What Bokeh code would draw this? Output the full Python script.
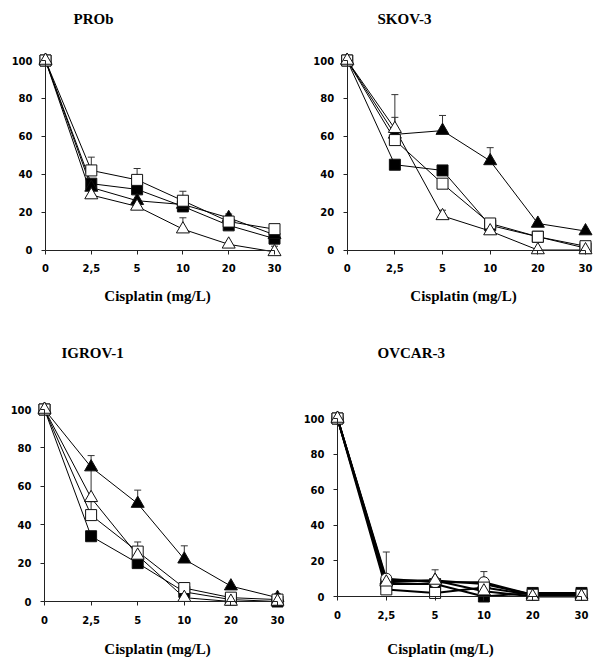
from bokeh.plotting import figure
from bokeh.layouts import column, row
from bokeh.models import Range1d, FixedTicker, Whisker, TeeHead, ColumnDataSource, Label
from bokeh.embed import file_html
from bokeh.resources import INLINE

# ---------------- data ----------------
DOSE_LABELS = ["0", "2,5", "5", "10", "20", "30"]
Y_TICKS = [0, 20, 40, 60, 80, 100]
X_LABEL = "Cisplatin (mg/L)"

# PROb
PROB_FSQ = [100, 35, 32, 23, 13, 6]
PROB_OSQ = [100, 42, 37, 26, 15, 11]
PROB_FTRI = [100, 33, 26, 24, 17, 8]
PROB_OTRI = [100, 29, 23, 11, 3, -1]
PROB_FSQ_ERR = [0, 0, 0, 0, 0, 0]
PROB_OSQ_ERR = [0, 7, 6, 5, 2, 0]
PROB_FTRI_ERR = [0, 0, 0, 0, 2, 0]
PROB_OTRI_ERR = [0, 0, 0, 6, 0, 3]

# SKOV-3
SKOV_FSQ = [100, 45, 42, 13, 7, 1]
SKOV_OSQ = [100, 58, 35, 14, 7, 2]
SKOV_FTRI = [100, 61, 63, 47, 14, 10]
SKOV_OTRI = [100, 64, 18, 10, 0, 0]
SKOV_FSQ_ERR = [0, 0, 0, 0, 0, 0]
SKOV_OSQ_ERR = [0, 12, 0, 0, 0, 0]
SKOV_FTRI_ERR = [0, 0, 8, 7, 0, 0]
SKOV_OTRI_ERR = [0, 18, 3, 0, 0, 0]

# IGROV-1
IGROV_FSQ = [100, 34, 20, 5, 1, 0]
IGROV_OSQ = [100, 45, 26, 7, 2, 1]
IGROV_FTRI = [100, 70, 51, 22, 8, 2]
IGROV_OTRI = [100, 54, 24, 2, 0, 0]
IGROV_FSQ_ERR = [0, 0, 0, 0, 0, 0]
IGROV_OSQ_ERR = [0, 7, 5, 0, 0, 0]
IGROV_FTRI_ERR = [0, 6, 7, 7, 0, 2]
IGROV_OTRI_ERR = [0, 15, 0, 0, 0, 0]

# OVCAR-3
OVCAR_FSQ = [100, 7, 7, 0, 2, 2]
OVCAR_OSQ = [100, 4, 2, 5, 1, 1]
OVCAR_FTRI = [100, 9, 9, 7, 1, 1]
OVCAR_OTRI = [100, 8, 9, 3, 0, 0]
OVCAR_OCIRC = [100, 10, 8, 8, 1, 1]
OVCAR_FSQ_ERR = [0, 0, 0, 0, 0, 0]
OVCAR_OSQ_ERR = [0, 0, 0, 0, 0, 0]
OVCAR_FTRI_ERR = [0, 0, 6, 0, 0, 0]
OVCAR_OTRI_ERR = [0, 0, 0, 0, 0, 0]
OVCAR_OCIRC_ERR = [0, 15, 0, 6, 0, 0]

# ---------------- styles ----------------
STYLE = {
    "fsq": dict(marker="square", fill_color="black", size=11),
    "osq": dict(marker="square", fill_color="white", size=11),
    "ftri": dict(marker="triangle", fill_color="black", size=13),
    "otri": dict(marker="triangle", fill_color="white", size=13),
    "ocirc": dict(marker="circle", fill_color="white", size=11),
}
TICK_FONT = "DejaVu Sans"
SERIF = "Liberation Serif"


def make_panel(title, series, ox, oy, w, h, x0px, x5px, y0px, y100px,
               title_left, title_y, xlabel_cx, xlabel_y, lw):
    xs = list(range(len(DOSE_LABELS)))
    n = xs[-1]
    pxx = (x5px - x0px) / n
    pxy = (y0px - y100px) / 100.0
    # frame covers the whole figure; map the data onto the wanted pixels
    x_start = -(x0px - ox) / pxx
    x_end = x_start + w / pxx
    y_end = 100 + (y100px - oy) / pxy
    y_start = y_end - h / pxy

    def dx(px):
        return x_start + (px - ox) / pxx

    def dy(py):
        return y_end - (py - oy) / pxy

    p = figure(width=w, height=h, title=None,
               x_range=Range1d(x_start, x_end),
               y_range=Range1d(y_start, y_end),
               output_backend="svg", toolbar_location=None,
               min_border_left=0, min_border_right=0,
               min_border_top=0, min_border_bottom=0)
    p.outline_line_color = None
    p.xgrid.visible = False
    p.ygrid.visible = False
    p.background_fill_color = "white"
    p.border_fill_color = "white"

    # axes drawn at the data origin
    xa = p.xaxis[0]
    xa.fixed_location = 0
    xa.bounds = (0, n)
    xa.ticker = FixedTicker(ticks=xs)
    xa.major_label_overrides = {i: lab for i, lab in zip(xs, DOSE_LABELS)}
    xa.minor_tick_line_color = None
    xa.major_tick_in = 0
    xa.major_tick_out = 4
    xa.major_label_standoff = 10

    ya = p.yaxis[0]
    ya.fixed_location = 0
    ya.bounds = (0, 100)
    ya.ticker = FixedTicker(ticks=Y_TICKS)
    ya.minor_tick_line_color = None
    ya.major_tick_in = 0
    ya.major_tick_out = 4
    ya.major_label_standoff = 9

    for ax in (xa, ya):
        ax.axis_line_color = "#222222"
        ax.major_tick_line_color = "#222222"
        ax.major_label_text_font = TICK_FONT
        ax.major_label_text_font_style = "bold"
        ax.major_label_text_font_size = "10px"
        ax.major_label_text_color = "black"

    # panel title and x-axis title
    p.add_layout(Label(x=dx(title_left), y=dy(title_y), text=title,
                       text_font=SERIF, text_font_style="bold", text_font_size="15px",
                       text_align="left", text_baseline="middle", text_color="black"))
    p.add_layout(Label(x=dx(xlabel_cx), y=dy(xlabel_y), text=X_LABEL,
                       text_font=SERIF, text_font_style="bold", text_font_size="15px",
                       text_align="center", text_baseline="middle", text_color="black"))

    # lines first
    for key, ys, errs in series:
        p.line(xs, ys, line_color="black", line_width=lw)
    # error bars (upper only)
    for key, ys, errs in series:
        bx = [x for x, e in zip(xs, errs) if e > 0]
        lo = [y for y, e in zip(ys, errs) if e > 0]
        up = [y + e for y, e in zip(ys, errs) if e > 0]
        if bx:
            src = ColumnDataSource(dict(x=bx, lower=lo, upper=up))
            wk = Whisker(source=src, base="x", lower="lower", upper="upper",
                         dimension="height", line_color="#333333", line_width=1,
                         lower_head=None,
                         upper_head=TeeHead(size=7, line_color="#333333", line_width=1),
                         level="underlay")
            p.add_layout(wk)
    # markers
    for key, ys, errs in series:
        st = STYLE[key]
        p.scatter(xs, ys, marker=st["marker"], size=st["size"],
                  fill_color=st["fill_color"], line_color="#111111", line_width=1)
    return p


p1 = make_panel("PROb",
                [("fsq", PROB_FSQ, PROB_FSQ_ERR), ("ftri", PROB_FTRI, PROB_FTRI_ERR),
                 ("osq", PROB_OSQ, PROB_OSQ_ERR), ("otri", PROB_OTRI, PROB_OTRI_ERR)],
                ox=0, oy=0, w=300, h=318, x0px=45, x5px=274, y0px=249.5, y100px=60,
                title_left=73, title_y=18, xlabel_cx=157, xlabel_y=295, lw=1)
p2 = make_panel("SKOV-3",
                [("fsq", SKOV_FSQ, SKOV_FSQ_ERR), ("ftri", SKOV_FTRI, SKOV_FTRI_ERR),
                 ("osq", SKOV_OSQ, SKOV_OSQ_ERR), ("otri", SKOV_OTRI, SKOV_OTRI_ERR)],
                ox=300, oy=0, w=300, h=318, x0px=346.7, x5px=585, y0px=249.5, y100px=60,
                title_left=377, title_y=18, xlabel_cx=463, xlabel_y=295, lw=1)
p3 = make_panel("IGROV-1",
                [("fsq", IGROV_FSQ, IGROV_FSQ_ERR), ("ftri", IGROV_FTRI, IGROV_FTRI_ERR),
                 ("osq", IGROV_OSQ, IGROV_OSQ_ERR), ("otri", IGROV_OTRI, IGROV_OTRI_ERR)],
                ox=0, oy=318, w=300, h=347, x0px=44, x5px=277, y0px=601, y100px=409,
                title_left=61, title_y=352, xlabel_cx=157, xlabel_y=648, lw=1)
p4 = make_panel("OVCAR-3",
                [("fsq", OVCAR_FSQ, OVCAR_FSQ_ERR), ("ftri", OVCAR_FTRI, OVCAR_FTRI_ERR),
                 ("ocirc", OVCAR_OCIRC, OVCAR_OCIRC_ERR), ("osq", OVCAR_OSQ, OVCAR_OSQ_ERR),
                 ("otri", OVCAR_OTRI, OVCAR_OTRI_ERR)],
                ox=300, oy=318, w=300, h=347, x0px=337, x5px=581, y0px=596, y100px=418,
                title_left=377, title_y=352, xlabel_cx=440, xlabel_y=648, lw=2)

layout = column(row(p1, p2, spacing=0), row(p3, p4, spacing=0), spacing=0)
open("out.html", "w").write(file_html(layout, INLINE))
